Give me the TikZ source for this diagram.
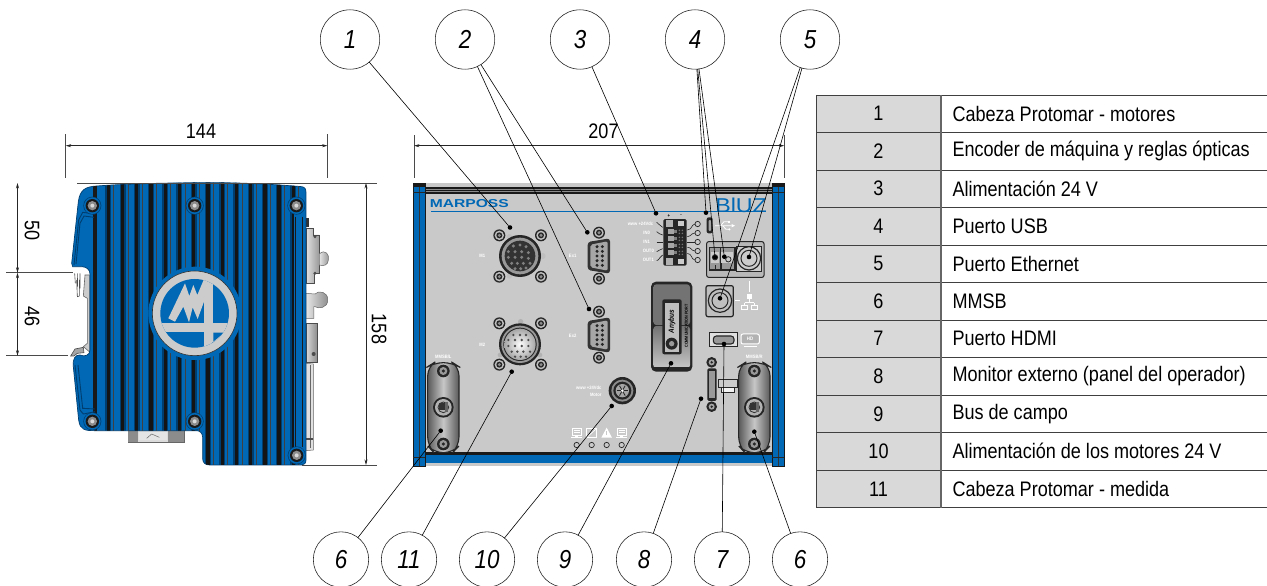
\documentclass[tikz,border=0pt]{standalone}
\usepackage{fontspec}
\setmainfont{Liberation Sans}[FakeStretch=0.86]
\usetikzlibrary{arrows.meta}
\definecolor{mblue}{HTML}{0068B4}
\definecolor{mdark}{HTML}{003E70}
\definecolor{mpanel}{HTML}{C9C9C9}
\definecolor{mcell}{HTML}{D9D9D9}
\definecolor{mline}{HTML}{4A4A4A}
\tikzset{
  callout/.style={circle,draw=black!85,line width=0.6pt,inner sep=0pt,outer sep=0pt,font=\fontsize{26}{30}\selectfont\itshape},
  topcall/.style={callout,minimum size=59.4pt},
  botcall/.style={callout,minimum size=55.4pt},
  spot/.style={circle,fill=black,inner sep=0pt,outer sep=0pt,minimum size=4.6pt},
  leader/.style={line width=0.6pt,black},
  dimline/.style={line width=0.6pt,black!85,{Stealth[length=5.5pt,width=3pt]}-{Stealth[length=5.5pt,width=3pt]}},
  extline/.style={line width=0.7pt,mline},
  dimtext/.style={font=\fontsize{21}{24}\selectfont,inner sep=0pt},
  celltext/.style={font=\fontsize{21}{24}\selectfont,inner sep=0pt},
  tiny/.style={text=white,font=\fontsize{4.8}{5}\selectfont\bfseries,inner sep=0pt},
}
\newcommand{\hole}[2]{\fill[black!85] (#1,#2) circle (18);\fill[black!25] (#1,#2) circle (14);\fill[black!85] (#1,#2) circle (9);\fill[black!45] (#1,#2) circle (5);}
\newcommand{\dsub}[2]{%
  \hole{#1}{#2-70}\hole{#1}{#2+68}
  \fill[black!80,rounded corners=3pt] (#1-34,#2-42)--(#1+33,#2-53)--(#1+33,#2+53)--(#1-34,#2+42)--cycle;
  \fill[black!35,rounded corners=2pt] (#1-26,#2-34)--(#1+26,#2-44)--(#1+26,#2+44)--(#1-26,#2+34)--cycle;
  \foreach \pa in {-28,-14,0,14,28}{\fill[black!85] (#1-6,#2+\pa) circle (5);\fill[black!85] (#1+10,#2+\pa) circle (5);}
}
\newcommand{\screw}[2]{\fill[mdark] (#1,#2) circle (27);\fill[mblue] (#1,#2) circle (25);\fill[black!90] (#1,#2) circle (20);\fill[black!45] (#1,#2) circle (14);\fill[black!15] (#1,#2) circle (6);}
\newcommand{\mmsb}[1]{%
  \draw[line width=1.1pt,black!85,left color=black!65,right color=black!65,middle color=black!22,rounded corners=9pt] (#1-47,590)--(#1-28,578)--(#1+28,578)--(#1+47,590)--(#1+47,828)--(#1+28,848)--(#1-28,848)--(#1-47,828)--cycle;
  \fill[black!85] (#1,603) circle (19);\fill[black!40] (#1,603) circle (12);\fill[black!85] (#1,603) circle (5);
  \fill[black!85] (#1,822) circle (19);\fill[black!40] (#1,822) circle (12);\fill[black!85] (#1,822) circle (5);
  \fill[black!85] (#1,712) circle (31);\fill[black!30] (#1,712) circle (25);
  \fill[black!80] (#1-12,700) rectangle (#1+6,720);\draw[black!80,line width=0.8pt] (#1,712) circle (16);\fill[black!60] (#1+6,695) rectangle (#1+14,725);
}
\begin{document}
\begin{tikzpicture}[x=1pt,y=-1pt]
\useasboundingbox (0,0) rectangle (1267,586);

% ---------- side view ----------
\begin{scope}[shift={(0,110)},x=0.33333pt,y=-0.33333pt]
  % right-hand connectors
  \fill[black!80] (918,325) rectangle (928,352);
  \draw[black!70,line width=0.5pt,left color=black!12,right color=black!40] (918,355)--(940,355)--(940,375)--(958,375)--(958,490)--(942,490)--(942,520)--(918,520)--cycle;
  \draw[black!60,line width=0.5pt,left color=black!10,right color=black!45] (958,432) .. controls (975,415) and (990,435) .. (985,450) .. controls (985,465) and (970,470) .. (958,465)--cycle;
  \fill[black!70] (945,380) circle (5);\fill[black!70] (945,490) circle (5);
  \draw[black!60,line width=0.5pt,left color=black!10,right color=black!45] (918,550)--(945,552) .. controls (955,540) and (985,545) .. (983,570) .. controls (983,595) and (955,597) .. (945,590)--(942,590)--(942,625)--(918,625)--cycle;
  \draw[black!70,line width=0.5pt,left color=black!15,right color=black!45] (918,640)--(952,640)--(952,757)--(918,757)--cycle;
  \fill[black!70] (941,732) circle (6);
  \draw[black!60,line width=0.5pt,fill=black!12] (918,760)--(940,762)--(940,1020)--(918,1022)--cycle;
  \draw[black!60,line width=0.5pt] (930,765)--(930,1015);
  \fill[black!70] (918,985) rectangle (940,990);
  % bottom connector
  \draw[black!60,line width=0.5pt,fill=black!14] (385,955) rectangle (552,997);
  \fill[black!45] (385,955) rectangle (415,997);\fill[black!45] (505,955) rectangle (552,997);
  \fill[black!10] (418,965)--(500,965)--(500,990)--(418,990)--cycle;
  \draw[black!60,line width=0.5pt] (440,985)--(455,972)--(478,982);
  % din rail
  \fill[white] (250,480) rectangle (272,730);
  \draw[black!60,line width=0.6pt,fill=black!20] (250,558)--(255,495)--(268,495)--(268,725)--(250,710)--(262,700)--(262,565)--cycle;
  \draw[black!70,line width=0.6pt] (224,490)--(226,520)(232,490)--(233,530)(240,490)--(240,535)(230,510)--(232,560)--(238,558)--(238,510);
  \draw[black!70,line width=0.6pt,fill=black!35] (212,738)--(225,717)--(250,712)--(252,728)--(232,730)--(222,738)--cycle;
  % body
  \path[fill=mblue,draw=mdark,line width=0.7pt] (235,275) .. controls (240,240) and (255,230) .. (290,228) .. controls (370,222) and (500,218) .. (640,218) .. controls (740,218) and (850,225) .. (905,230) .. controls (915,231) and (918,238) .. (918,248)--(918,1050) .. controls (918,1060) and (912,1065) .. (905,1065)--(630,1065) .. controls (615,1065) and (608,1058) .. (608,1045)--(608,982) .. controls (608,970) and (600,962) .. (590,962)--(285,962) .. controls (255,962) and (240,960) .. (236,930)--(220,770) .. controls (218,745) and (225,735) .. (240,735) .. controls (255,742) and (270,735) .. (270,720)--(270,492) .. controls (270,478) and (258,470) .. (245,470)--(218,470)--(215,460)--cycle;
  \begin{scope}
    \clip (235,275) .. controls (240,240) and (255,230) .. (290,228) .. controls (370,222) and (500,218) .. (640,218) .. controls (740,218) and (850,225) .. (905,230) .. controls (915,231) and (918,238) .. (918,248)--(918,1050) .. controls (918,1060) and (912,1065) .. (905,1065)--(630,1065) .. controls (615,1065) and (608,1058) .. (608,1045)--(608,982) .. controls (608,970) and (600,962) .. (590,962)--(285,962)--(236,930)--(220,770)--(240,735)--(270,720)--(270,492)--(245,470)--(215,460)--cycle;
    \fill[black!90] (280,225) rectangle (292,1070);
    \foreach \k in {0,...,13}{
      \pgfmathsetmacro{\xs}{325+42.7*\k}
      \fill[mdark] (\xs-9,215) rectangle (\xs+9,1070);
      \fill[black!92] (\xs-5,215) rectangle (\xs+5,1070);
      \draw[black!75,line width=0.4pt] (\xs+16,215)--(\xs+16,1070);
    }
  \end{scope}
  \fill[mblue] (585,610) circle (140);
  % side cover
  \draw[mdark,line width=0.9pt] (285,312)--(248,307)--(236,330)--(222,465);
  \draw[mdark,line width=0.9pt] (282,322)--(252,318)--(240,340)--(228,462);
  \draw[mdark,line width=0.9pt] (225,765)--(240,900)--(250,912)--(285,905);
  \draw[mdark,line width=0.9pt] (234,765)--(248,895)--(285,897);
  \fill[mblue] (882,310) rectangle (912,1012);
  \draw[black!90,line width=1.4pt] (886,320)--(886,1010);
  \draw[black!90,line width=1.4pt] (908,320)--(908,1010);
  % logo
  \draw[black!80,line width=0.6pt,fill=black!20] (584,610) circle (127);
  \begin{scope}
    \clip (584,610) circle (103);
    \fill[mblue] (470,500) rectangle (700,725);
    \fill[black!20] (612,495) rectangle (640,730);
    \fill[black!20] (470,640) rectangle (700,665);
    \fill[black!20] (640,665) rectangle (700,730);
    \fill[mblue] (640,668)--(672,668)--(640,695)--cycle;
    \fill[black!20] (505,625)--(555,520)--(568,558)--(580,525)--(592,555)--(610,512)--(612,490)--(620,490)--(615,575)--(612,575)--(593,627)--(578,592)--(567,637)--(550,590)--(525,635)--cycle;
  \end{scope}
  \screw{277}{287}\screw{584}{287}\screw{889}{287}\screw{277}{934}\screw{584}{934}\screw{890}{1036}
\end{scope}

% ---------- dimension lines ----------
\coordinate (e1a) at (65.7,134);\coordinate (e1b) at (65.7,178);
\coordinate (e2a) at (327.5,134);\coordinate (e2b) at (327.5,178);
\coordinate (e3a) at (414,135);\coordinate (e3b) at (414,178);
\coordinate (e4a) at (784.3,135);\coordinate (e4b) at (784.3,178);
\coordinate (e5a) at (77,183);\coordinate (e5b) at (377,183);
\coordinate (e6a) at (302,465);\coordinate (e6b) at (377,465);
\coordinate (e7a) at (6,272.7);\coordinate (e7b) at (73,272.7);
\coordinate (e8a) at (6,355.7);\coordinate (e8b) at (68,355.7);
\draw[extline] (e1a)--(e1b) (e2a)--(e2b) (e3a)--(e3b) (e4a)--(e4b) (e5a)--(e5b) (e6a)--(e6b) (e7a)--(e7b) (e8a)--(e8b);
\coordinate (l1a) at (65.7,145.7);\coordinate (l1b) at (327.5,145.7);
\coordinate (l2a) at (414,145.7);\coordinate (l2b) at (784.3,145.7);
\coordinate (l3a) at (366,183);\coordinate (l3b) at (366,465);
\coordinate (l4a) at (17.5,183);\coordinate (l4b) at (17.5,272.7);\coordinate (l5b) at (17.5,355.7);
\draw[dimline] (l1a)--(l1b);
\draw[dimline] (l2a)--(l2b);
\draw[dimline] (l3a)--(l3b);
\draw[dimline] (l4a)--(l4b);
\draw[dimline] (l4b)--(l5b);
\node[dimtext] (t144) at (201,131) {144};
\node[dimtext] (t207) at (603.5,131) {207};
\node[dimtext,rotate=-90] (t158) at (379,329) {158};
\node[dimtext,rotate=-90] (t50) at (32,231) {50};
\node[dimtext,rotate=-90] (t46) at (32,317) {46};

% ---------- front panel ----------
\fill[black!35] (526.7,463) rectangle (600,465);
\fill[black!35] (610,463) rectangle (682,465);
\begin{scope}[shift={(400,170)},x=0.33333pt,y=-0.33333pt]
  \fill[mpanel] (40,40) rectangle (1153,888);
  % top and bottom bars
  \fill[black!90] (76,50) rectangle (1118,73);
  \fill[black!45] (76,57) rectangle (1118,59);\fill[black!45] (76,64) rectangle (1118,66);
  \fill[black!90] (76,845) rectangle (1118,856);
  \fill[mblue] (76,854) rectangle (1118,880);
  % rails
  \foreach \rx in {40,1117}{
    \fill[mblue] (\rx,40) rectangle (\rx+36,888);
    \draw[black!90,line width=0.5pt] (\rx,40) rectangle (\rx+36,888);
    \draw[black!80,line width=0.5pt] (\rx+18,40)--(\rx+18,888);
    \fill[black!90] (\rx,40) rectangle (\rx+36,52);
    \draw[black!85,line width=0.5pt] (\rx,68)--(\rx+36,68) (\rx,862)--(\rx+36,862);
  }
  % logos
  \node[inner sep=0pt,text=mblue,font=\fontsize{11.5}{12}\selectfont\bfseries,xscale=1.58] (marp) at (208,102) {MARPOSS};
  \draw[mblue,line width=0.9pt] (93,124)--(1098,124);
  \node[inner sep=0pt,anchor=west,text=mblue,font=\fontsize{20}{20}\selectfont,xscale=1.35] (bluz) at (945,106) {BlUZ};
  % M1
  \hole{298}{196}\hole{423}{196}\hole{298}{320}\hole{423}{320}
  \fill[black!25] (328,200) circle (8);\fill[black!25] (428,258) circle (9);\fill[black!25] (328,318) circle (8);
  \fill[black!85] (360,258) circle (63);\fill[black!40] (360,258) circle (55);\fill[black!80] (360,258) circle (46);
  \foreach \a/\b in {340/228,360/225,378/230,325/245,345/245,365/245,385/248,325/262,345/262,365/262,385/265,335/280,352/280,370/280,390/280,345/296,362/296,378/294}{\fill[black!50] (\a,\b) circle (5);}
  % M2
  \hole{298}{460}\hole{423}{460}\hole{298}{584}\hole{423}{584}
  \fill[black!30] (362,455) circle (8);\fill[black!30] (300,555) circle (7);\fill[black!30] (420,555) circle (7);
  \fill[black!85] (360,523) circle (63);\fill[black!40] (360,523) circle (56);\fill[black!85] (360,523) circle (50);
  \shade[inner color=white,outer color=black!35] (360,523) circle (47);
  \foreach \a/\b in {340/495,360/495,378/495,325/510,345/510,365/510,385/510,325/528,345/528,365/528,385/528,335/545,352/545,370/545,390/545,345/560,362/560,378/560}{\fill[black!70] (\a,\b) circle (4);}
  % D-subs
  \dsub{597}{258}
  \dsub{597}{495}
  % MMSB/L
  \mmsb{130}
  % LEDs and icons
  \foreach \lx in {530,575,620,665}{\draw[black!85,line width=0.7pt] (\lx,825) circle (8);}
  \foreach \lx in {530,665}{
    \draw[white,line width=0.8pt] (\lx-13,775) rectangle (\lx+13,795);
    \draw[white,line width=1.2pt] (\lx-16,802)--(\lx+16,802);
    \fill[white] (\lx-5,795) rectangle (\lx+5,802);
    \draw[white,line width=0.5pt] (\lx-9,781)--(\lx+9,781)(\lx-9,787)--(\lx+9,787);
  }
  \draw[white,line width=0.9pt] (560,775) rectangle (590,803);
  \draw[white,line width=0.6pt] (562,801)--(588,777);
  \fill[white] (604,803)--(620,773)--(636,803)--cycle;
  \fill[mpanel] (618,783) rectangle (622,795);
  % white labels
  \node[tiny] (m1l) at (247,258) {M1};
  \node[tiny] (ex1l) at (518,258) {Ex1};
  \node[tiny] (m2l) at (247,523) {M2};
  \node[tiny] (ex2l) at (518,496) {Ex2};
  \node[tiny] (mml) at (130,561) {MMSB/L};
  \node[tiny,anchor=east] (pow) at (605,652) {www +24Vdc};
  \node[tiny,anchor=east] (mot) at (605,675) {Motor};

  \begin{scope}[shift={(600,0)}]
    % motor connector
    \fill[black!85] (67,662) circle (41);\fill[black!45] (67,662) circle (33);\fill[black!85] (67,662) circle (27);\fill[black!35] (67,662) circle (20);
    \foreach \an in {0,60,...,300}{\draw[black!85,line width=0.8pt] (67,662)--++(\an:17);}
    \fill[white] (67,662) circle (4);
    % terminal block
    \fill[black!85,rounded corners=1.5pt] (190,147) rectangle (260,287);
    \fill[black!30] (198,150) rectangle (220,172);\fill[black!30] (198,264) rectangle (220,284);
    \fill[black!20] (235,152) rectangle (252,168);\fill[black!20] (235,266) rectangle (252,282);
    \foreach \ty in {178,199,220,241}{\fill[black!35] (204,\ty) rectangle (222,\ty+15);\fill[black!50] (222,\ty+3) rectangle (232,\ty+12);\foreach \tx in {238,247}{\fill[black!55] (\tx,\ty+3) circle (2.5);\fill[black!55] (\tx,\ty+12) circle (2.5);}}
    \node[tiny,text=black,font=\fontsize{5}{5}\selectfont\bfseries] (plus) at (207,137) {+};
    \node[tiny,text=black,font=\fontsize{5}{5}\selectfont\bfseries] (minus) at (243,137) {-};
    \foreach \tyy in {162,189,216,243,270}{\draw[black!85,line width=0.7pt] (293,\tyy) circle (8);}
    \draw[black!85,line width=0.6pt] (285,162) .. controls (272,165) and (278,178) .. (262,180);
    \draw[black!85,line width=0.6pt] (285,189) .. controls (272,190) and (276,198) .. (262,200);
    \draw[black!85,line width=0.6pt] (285,216)--(262,216);
    \draw[black!85,line width=0.6pt] (285,243) .. controls (272,242) and (276,232) .. (262,232);
    \draw[black!85,line width=0.6pt] (285,270) .. controls (272,268) and (278,252) .. (262,250);
    \draw[black!85,line width=0.6pt] (170,157) .. controls (180,160) and (178,170) .. (188,172);
    \draw[black!85,line width=0.6pt] (170,185) .. controls (178,188) and (178,195) .. (188,195);
    \draw[black!85,line width=0.6pt] (170,216)--(188,216);
    \draw[black!85,line width=0.6pt] (170,245) .. controls (178,245) and (178,236) .. (188,236);
    \draw[black!85,line width=0.6pt] (170,272) .. controls (180,270) and (178,258) .. (188,255);
    \node[tiny,anchor=east] (pow2) at (160,161) {www +24Vdc};
    \node[tiny,anchor=east] (in0) at (150,189) {IN0};
    \node[tiny,anchor=east] (in1) at (150,216) {IN1};
    \node[tiny,anchor=east] (ou0) at (162,243) {OUT0};
    \node[tiny,anchor=east] (ou1) at (162,271) {OUT1};
    % USB
    \fill[black!85,rounded corners=2pt] (320,142) rectangle (338,190);
    \fill[black!35,rounded corners=1pt] (326,150) rectangle (333,183);
    \draw[white,line width=0.8pt] (345,167)--(395,167) (362,167)--(372,155)--(385,155) (368,167)--(378,178)--(388,178);
    \fill[white] (395,162)--(405,167)--(395,172)--cycle;
    \fill[white] (385,152) rectangle (391,158);
    \fill[white] (388,178) circle (3.5);
    % Ethernet twin block
    \draw[black!85,line width=1pt,fill=black!28,rounded corners=2pt] (320,215) rectangle (492,322);
    \draw[black!85,line width=1.2pt,fill=black!40] (328,232) rectangle (405,300);
    \draw[black!85,line width=0.8pt] (360,232)--(360,300);
    \fill[black!20] (332,245) rectangle (357,280);
    \fill[black!20] (364,245) rectangle (400,280);
    \draw[black!85,line width=0.8pt] (345,262) circle (8);
    \draw[black!85,line width=0.8pt] (385,268) circle (8);
    \draw[black!85,line width=0.8pt] (345,285)--(345,300) (365,280)--(365,300);
    \draw[black!85,line width=1pt,fill=black!20] (410,228) rectangle (483,305);
    \draw[black!85,line width=1.2pt] (447,265) circle (35);
    \draw[black!85,line width=1pt] (447,265) circle (24);
    % lower port
    \draw[black!85,line width=1.2pt,fill=black!25,rounded corners=2pt] (318,347) rectangle (400,440);
    \draw[black!85,line width=1.2pt] (360,392) circle (35);
    \draw[black!85,line width=1pt] (360,392) circle (24);
    % network icon
    \draw[white,line width=0.8pt] (447,333)--(447,365) (406,392)--(420,392) (434,398)--(462,398) (448,385)--(448,398) (434,398)--(434,405) (462,398)--(462,405);
    \fill[white] (440,373) rectangle (456,386);
    \draw[white,line width=0.8pt] (425,405) rectangle (443,418) (453,405) rectangle (471,418);
    % Anybus
    \fill[black!85,rounded corners=5pt] (153,335) rectangle (277,605);
    \shade[left color=black!55,right color=black!55,rounded corners=3pt] (160,343) rectangle (270,465);
    \shade[top color=black!55,bottom color=black!22,rounded corners=3pt] (160,468) rectangle (270,595);
    \fill[black!85] (160,592) rectangle (270,597);
    \fill[black!85,rounded corners=2pt] (187,388) rectangle (245,553);
    \fill[black!25] (195,398) rectangle (237,545);
    \node[inner sep=0pt,rotate=90,font=\fontsize{7.5}{8}\selectfont\bfseries\itshape,text=black] (anyb) at (216,455) {Anybus};
    \fill[black!85] (215,521) circle (18);\fill[black!40] (215,521) circle (8);
    \node[inner sep=0pt,rotate=90,font=\fontsize{4.3}{5}\selectfont\bfseries,text=black] (comm) at (259,468) {COMMUNICATION PORT};
    % HDMI
    \draw[black!85,line width=1pt,fill=black!12] (328,488) rectangle (412,530);
    \draw[black!85,line width=1.1pt,fill=black!40,rounded corners=3pt] (340,498) rectangle (402,522);
    \draw[white,line width=1pt,rounded corners=2pt,fill=black!30] (423,492) rectangle (478,522);
    \draw[white,line width=1pt] (432,529)--(470,529);
    \node[tiny,font=\fontsize{5}{5}\selectfont\bfseries] (hd) at (450,507) {HD};
    % monitor connector
    \fill[black!85] (335,577) circle (16);\fill[black!35] (335,577) circle (9);\fill[black!85] (335,577) circle (4);
    \fill[black!85] (335,710) circle (16);\fill[black!35] (335,710) circle (9);\fill[black!85] (335,710) circle (4);
    \fill[black!85,rounded corners=1.5pt] (322,595) rectangle (350,693);
    \fill[black!40] (328,603) rectangle (344,685);
    \draw[black!85,line width=0.7pt,fill=black!20] (356,628) rectangle (412,652);
    \draw[black!85,line width=0.7pt,fill=black!5] (365,652) rectangle (403,667);
    % MMSB/R
    \mmsb{463}
    \node[tiny] (mmr) at (463,561) {MMSB/R};
  \end{scope}
\end{scope}

% ---------- callouts ----------
\node[topcall] (c1) at (350,39.5) {1};
\node[topcall] (c2) at (465,39.5) {2};
\node[topcall] (c3) at (580,39.5) {3};
\node[topcall] (c4) at (695,39.5) {4};
\node[topcall] (c5) at (810,39.5) {5};
\node[botcall] (c6l) at (341,559.5) {6};
\node[botcall] (c11) at (409,559.5) {11};
\node[botcall] (c10) at (487,559.5) {10};
\node[botcall] (c9) at (565,559.5) {9};
\node[botcall] (c8) at (644,559.5) {8};
\node[botcall] (c7) at (722,559.5) {7};
\node[botcall] (c6r) at (800,559.5) {6};

\node[spot] (d1) at (510,227.5) {};
\node[spot] (d2a) at (587.3,232.3) {};
\node[spot] (d2b) at (589,309) {};
\node[spot] (d3) at (656,213.3) {};
\node[spot] (d4a) at (706,212.7) {};
\node[spot] (d4b) at (715,257.3) {};
\node[spot] (d4c) at (724.3,256.7) {};
\node[spot] (d5a) at (749,257) {};
\node[spot] (d5b) at (720,298.3) {};
\node[spot] (d6l) at (440.7,430.7) {};
\node[spot] (d11) at (511.7,371.7) {};
\node[spot] (d10) at (611.7,406) {};
\node[spot] (d9) at (671,363.3) {};
\node[spot] (d8) at (701,398.7) {};
\node[spot] (d7) at (724,344) {};
\node[spot] (d6r) at (754.3,431.7) {};

\draw[leader] (c1)--(d1);
\draw[leader] (c2)--(d2a);
\draw[leader] (c2)--(d2b);
\draw[leader] (c3)--(d3);
\draw[leader] (c4)--(d4a);
\draw[leader] (c4)--(d4b);
\draw[leader] (c4)--(d4c);
\draw[leader] (c5)--(d5a);
\draw[leader] (c5)--(d5b);
\draw[leader] (c6l)--(d6l);
\draw[leader] (c11)--(d11);
\draw[leader] (c10)--(d10);
\draw[leader] (c9)--(d9);
\draw[leader] (c8)--(d8);
\draw[leader] (c7)--(d7);
\draw[leader] (c6r)--(d6r);

% ---------- table ----------
\fill[mcell] (816.7,95) rectangle (941,507.7);
\foreach \r in {0,...,11}{\draw[black!75,line width=0.8pt] (816.7,95+37.52*\r)--(1267,95+37.52*\r);}
\draw[black!75,line width=0.8pt] (816.7,95)--(816.7,507.7);
\draw[black!60,line width=1.2pt] (941,95)--(941,507.7);
\foreach \r/\n/\txt in {1/1/Cabeza Protomar - motores,2/2/Encoder de máquina y reglas ópticas,3/3/Alimentación 24 V,4/4/Puerto USB,5/5/Puerto Ethernet,6/6/MMSB,7/7/Puerto HDMI,8/8/Monitor externo (panel del operador),9/9/Bus de campo,10/10/Alimentación de los motores 24 V,11/11/Cabeza Protomar - medida}{
  \node[celltext] (n\r) at (878.5,95+37.52*\r-18.9) {\n};
  \node[celltext,anchor=west] (x\r) at (952.3,95+37.52*\r-18.9) {\txt};
}
\end{tikzpicture}
\end{document}
